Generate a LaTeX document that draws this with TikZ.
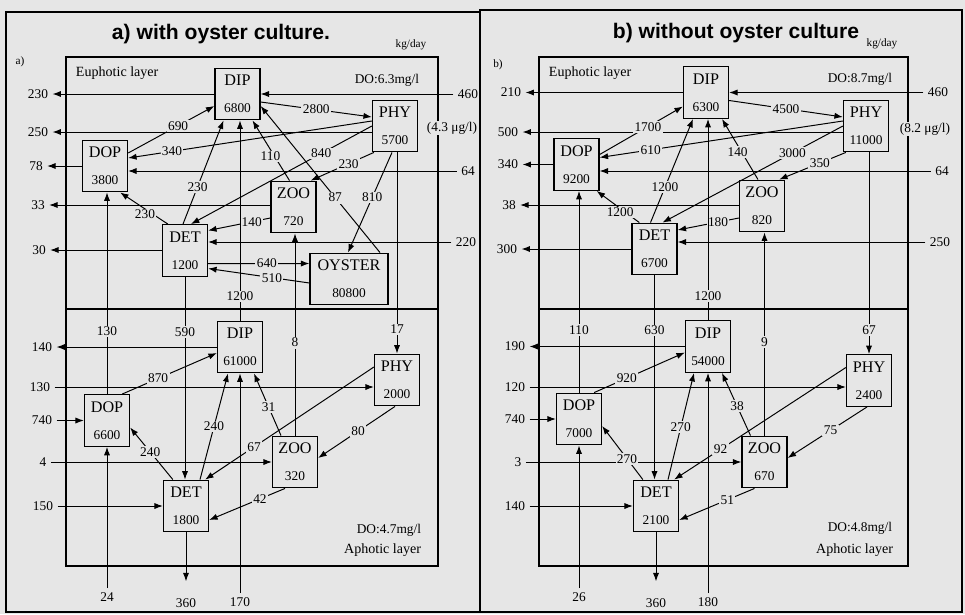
\documentclass[tikz,border=0pt]{standalone}
\usepackage{fontspec}
\setmainfont{Liberation Serif}
\newfontfamily\titlefont{Liberation Sans}
\usetikzlibrary{arrows.meta,calc}
\definecolor{paper}{RGB}{230,230,230}
\newcommand{\poolval}{\fontsize{9.5}{19}\selectfont}
\tikzset{
  >={Latex[length=6pt,width=4.4pt]},
  pool/.style={draw, line width=0.9pt, fill=paper, minimum width=1.125cm, minimum height=1.29cm,
    inner sep=0pt, align=center, font=\fontsize{11.5}{19}\selectfont},
  flux/.style={->, line width=0.7pt},
  lab/.style={font=\fontsize{9.5}{11}\selectfont, inner sep=1pt, fill=paper},
  bound/.style={font=\fontsize{9.5}{11}\selectfont, inner sep=3pt},
  small/.style={font=\fontsize{9.5}{11}\selectfont},
}

\begin{document}
\begin{tikzpicture}[x=0.025cm, y=-0.025cm]
  \fill[paper] (0,0) rectangle (965,614);
  \useasboundingbox (0,0) rectangle (965,614);
  % frames
  \draw[line width=1.2pt] (6,12) rectangle (480,612);
  \draw[line width=1.2pt] (480,10) rectangle (962,612);
  \draw[line width=1pt] (66,57) rectangle (438,566);
  \draw[line width=1pt] (66,309) -- (438,309);
  \draw[line width=1pt] (539,57) rectangle (908,566);
  \draw[line width=1pt] (539,309) -- (908,309);

  % ---------------- a) with oyster culture ----------------
  \node[font=\titlefont\bfseries\fontsize{15}{18}\selectfont] (titleA) at (221,34) {a) with oyster culture.};
  \node[font=\fontsize{8}{9}\selectfont] (unitA) at (411,45) {kg/day};
  \node[font=\fontsize{8}{9}\selectfont] (tagA) at (20,62) {a)};
  \node[font=\fontsize{10}{12}\selectfont, anchor=west] (euA) at (71,73) {Euphotic layer};
  \node[small, anchor=east] (doUa) at (424,80) {DO:6.3mg/l};
  \node[small, fill=paper, inner sep=1pt] (chlA) at (452,128) {(4.3 μg/l)};
  \node[small, anchor=east] (doLa) at (426,530) {DO:4.7mg/l};
  \node[font=\fontsize{10}{12}\selectfont, anchor=east] (apA) at (426,550) {Aphotic layer};

  % pools
  \node[pool] (dipUa) at (237.5,94) {DIP\\\poolval 6800};
  \node[pool] (phyUa) at (395,126) {PHY\\\poolval 5700};
  \node[pool] (dopUa) at (105,166) {DOP\\\poolval 3800};
  \node[pool] (zooUa) at (293.5,207) {ZOO\\\poolval 720};
  \node[pool] (detUa) at (185,250.5) {DET\\\poolval 1200};
  \node[pool, minimum width=1.95cm] (oysUa) at (349,279) {OYSTER\\\poolval 80800};
  \node[pool] (dipLa) at (240,347) {DIP\\\poolval 61000};
  \node[pool] (phyLa) at (397,380) {PHY\\\poolval 2000};
  \node[pool] (dopLa) at (107,420.5) {DOP\\\poolval 6600};
  \node[pool] (zooLa) at (295,462) {ZOO\\\poolval 320};
  \node[pool] (detLa) at (186,506) {DET\\\poolval 1800};

  % boundary values
  \node[bound] (xDipUa) at (38,94) {230};
  \node[bound] (xPhyUa) at (38,132) {250};
  \node[bound] (xDopUa) at (36,166) {78};
  \node[bound] (xZooUa) at (38,205) {33};
  \node[bound] (xDetUa) at (39,250) {30};
  \node[bound] (iDipUa) at (468,94) {460};
  \node[bound] (iDopUa) at (468,171) {64};
  \node[bound] (iDetUa) at (466,242) {220};
  \node[bound] (xDipLa) at (42,347) {140};
  \node[bound] (iPhyLa) at (40,387) {130};
  \node[bound] (iDopLa) at (42,420.5) {740};
  \node[bound] (iZooLa) at (43,462) {4};
  \node[bound] (iDetLa) at (43,506) {150};
  \node[bound] (bDopLa) at (107,597) {24};
  \node[bound] (xDetLa) at (186,603) {360};
  \node[bound] (bDipLa) at (240,602) {170};

  % exchange with the boundaries
  \draw[flux] (dipUa.west) -- (xDipUa);
  \draw[flux] (phyUa.west |- xPhyUa) -- (xPhyUa);
  \draw[flux] (dopUa.west) -- (xDopUa);
  \draw[flux] (zooUa.west |- xZooUa) -- (xZooUa);
  \draw[flux] (detUa.west |- xDetUa) -- (xDetUa);
  \draw[flux] (iDipUa) -- (dipUa.east);
  \draw[flux] (iDopUa) -- (dopUa.east |- iDopUa);
  \draw[flux] (iDetUa) -- (detUa.east |- iDetUa);
  \draw[flux] (dipLa.west) -- (xDipLa);
  \draw[flux] (iPhyLa) -- (phyLa.west |- iPhyLa);
  \draw[flux] (iDopLa) -- (dopLa.west);
  \draw[flux] (iZooLa) -- (zooLa.west);
  \draw[flux] (iDetLa) -- (detLa.west);
  \draw[flux] (bDopLa) -- (dopLa.south);
  \draw[flux, shorten >=9pt] (detLa.south) -- (xDetLa);
  \draw[flux] (bDipLa) -- (dipLa.south);

  % euphotic fluxes
  \draw[flux] ($(dipUa.east)+(0,8)$) -- node[lab] (upA) {2800} ($(phyUa.west)+(0,-9)$);
  \draw[flux] ($(dopUa.east)+(0,-13)$) -- node[lab, pos=.58] (minUa) {690} ($(dipUa.west)+(0,12)$);
  \draw[flux] ($(phyUa.west)+(0,-5)$) -- node[lab, pos=.82] (exuUa) {340} ($(dopUa.east)+(0,-8)$);
  \draw[flux] (phyUa.west) -- node[lab, pos=.28] (mortUa) {840} ($(detUa.north)+(6,0)$);
  \draw[flux] ($(phyUa.south west)+(2,0)$) -- node[lab, pos=.4] (grzUa) {230} ($(zooUa.north east)+(-6,0)$);
  \draw[flux] ($(zooUa.north)+(-4,0)$) -- node[lab, pos=.4, xshift=-3pt] (zexUa) {110} ($(dipUa.south)+(15,0)$);
  \draw[flux] ($(detUa.north)+(-2,0)$) -- node[lab, pos=.36] (detminUa) {230} ($(dipUa.south)+(-14,0)$);
  \draw[flux] ($(detUa.north west)+(6,0)$) -- node[lab, pos=.48, yshift=-4pt] (detdopUa) {230} ($(dopUa.south east)+(-8,0)$);
  \draw[flux] ($(oysUa.north)+(31,0)$) -- node[lab, pos=.375] (oysexA) {87} ($(dipUa.east)+(0,12)$);
  \draw[flux] ($(phyUa.south)+(-3,0)$) -- node[lab, pos=.45] (filtA) {810} ($(oysUa.north)+(-1,0)$);
  \draw[flux] ($(zooUa.west)+(0,11)$) -- node[lab, pos=.3] (zdetUa) {140} ($(detUa.east)+(0,-20)$);
  \draw[flux] ($(detUa.east)+(0,13)$) -- node[lab, pos=.58] (detoysA) {640} ($(oysUa.west)+(0,-15.5)$);
  \draw[flux] ($(oysUa.west)+(0,4)$) -- node[lab, pos=.37] (feceA) {510} ($(detUa.east)+(0,18)$);

  % between the layers
  \draw[flux] (dopLa.north) -- node[lab, pos=.31] (upDopA) {130} (dopLa.north |- dopUa.south);
  \draw[flux] (detUa.south) -- node[lab, pos=.27] (sinkDetA) {590} (detUa.south |- detLa.north);
  \draw[flux] (dipLa.north) -- node[lab, pos=.12] (upDipA) {1200} (dipLa.north |- dipUa.south);
  \draw[flux] (zooLa.north) -- node[lab, pos=.46] (upZooA) {8} (zooLa.north |- zooUa.south);
  \draw[flux] (phyLa.north |- phyUa.south) -- node[lab, pos=.88] (sinkPhyA) {17} (phyLa.north);

  % aphotic fluxes
  \draw[flux] ($(dopLa.north east)+(-8,0)$) -- node[lab, pos=.38] (minLa) {870} ($(dipLa.west)+(0,6)$);
  \draw[flux] ($(detLa.north)+(14,0)$) -- node[lab, pos=.5] (detminLa) {240} ($(dipLa.south)+(-12,0)$);
  \draw[flux] ($(detLa.north west)+(10,0)$) -- node[lab, pos=.53] (detdopLa) {240} ($(dopLa.east)+(0,7)$);
  \draw[flux] ($(zooLa.north)+(-14,0)$) -- node[lab, pos=.46] (zexLa) {31} ($(dipLa.south)+(14,0)$);
  \draw[flux] ($(phyLa.west)+(0,-13)$) -- node[lab, pos=.71] (mortLa) {67} ($(detLa.north east)+(-4,0)$);
  \draw[flux] ($(phyLa.south)+(-2,0)$) -- node[lab, pos=.48] (grzLa) {80} ($(zooLa.east)+(0,-4)$);
  \draw[flux] ($(zooLa.south)+(-10,0)$) -- node[lab, pos=.33] (zdetLa) {42} ($(detLa.east)+(0,14)$);

  % ---------------- b) without oyster culture ----------------
  \node[font=\titlefont\bfseries\fontsize{15}{18}\selectfont] (titleB) at (736,33) {b) without oyster culture};
  \node[font=\fontsize{8}{9}\selectfont] (unitB) at (882,44) {kg/day};
  \node[font=\fontsize{8}{9}\selectfont] (tagB) at (498,65) {b)};
  \node[font=\fontsize{10}{12}\selectfont, anchor=west] (euB) at (544,73) {Euphotic layer};
  \node[small, anchor=east] (doUb) at (897,79) {DO:8.7mg/l};
  \node[small, fill=paper, inner sep=1pt] (chlB) at (925,129) {(8.2 μg/l)};
  \node[small, anchor=east] (doLb) at (897,528) {DO:4.8mg/l};
  \node[font=\fontsize{10}{12}\selectfont, anchor=east] (apB) at (898,550) {Aphotic layer};

  % pools
  \node[pool] (dipUb) at (706,92.5) {DIP\\\poolval 6300};
  \node[pool] (phyUb) at (866,126) {PHY\\\poolval 11000};
  \node[pool] (dopUb) at (576.5,164.5) {DOP\\\poolval 9200};
  \node[pool] (zooUb) at (762,206) {ZOO\\\poolval 820};
  \node[pool] (detUb) at (654.5,249) {DET\\\poolval 6700};
  \node[pool] (dipLb) at (708,346.5) {DIP\\\poolval 54000};
  \node[pool] (phyLb) at (869,380.5) {PHY\\\poolval 2400};
  \node[pool] (dopLb) at (579,419) {DOP\\\poolval 7000};
  \node[pool] (zooLb) at (764.5,462) {ZOO\\\poolval 670};
  \node[pool] (detLb) at (656,506) {DET\\\poolval 2100};

  % boundary values
  \node[bound] (xDipUb) at (511,92.5) {210};
  \node[bound] (xPhyUb) at (508,132) {500};
  \node[bound] (xDopUb) at (508,164.5) {340};
  \node[bound] (xZooUb) at (509,205) {38};
  \node[bound] (xDetUb) at (507,249) {300};
  \node[bound] (iDipUb) at (938,92.5) {460};
  \node[bound] (iDopUb) at (942,171) {64};
  \node[bound] (iDetUb) at (940,242) {250};
  \node[bound] (xDipLb) at (515,346.5) {190};
  \node[bound] (iPhyLb) at (515,387) {120};
  \node[bound] (iDopLb) at (515,419) {740};
  \node[bound] (iZooLb) at (518,462) {3};
  \node[bound] (iDetLb) at (515,506) {140};
  \node[bound] (bDopLb) at (579,597) {26};
  \node[bound] (xDetLb) at (656,603) {360};
  \node[bound] (bDipLb) at (708,602) {180};

  % exchange with the boundaries
  \draw[flux] (dipUb.west) -- (xDipUb);
  \draw[flux] (phyUb.west |- xPhyUb) -- (xPhyUb);
  \draw[flux] (dopUb.west) -- (xDopUb);
  \draw[flux] (zooUb.west |- xZooUb) -- (xZooUb);
  \draw[flux] (detUb.west) -- (xDetUb);
  \draw[flux] (iDipUb) -- (dipUb.east);
  \draw[flux] (iDopUb) -- (dopUb.east |- iDopUb);
  \draw[flux] (iDetUb) -- (detUb.east |- iDetUb);
  \draw[flux] (dipLb.west) -- (xDipLb);
  \draw[flux] (iPhyLb) -- (phyLb.west |- iPhyLb);
  \draw[flux] (iDopLb) -- (dopLb.west);
  \draw[flux] (iZooLb) -- (zooLb.west);
  \draw[flux] (iDetLb) -- (detLb.west);
  \draw[flux] (bDopLb) -- (dopLb.south);
  \draw[flux, shorten >=9pt] (detLb.south) -- (xDetLb);
  \draw[flux] (bDipLb) -- (dipLb.south);

  % euphotic fluxes
  \draw[flux] ($(dipUb.east)+(0,8)$) -- node[lab] (upB) {4500} ($(phyUb.west)+(0,-9)$);
  \draw[flux] ($(dopUb.east)+(0,-10)$) -- node[lab, pos=.58] (minUb) {1700} ($(dipUb.west)+(0,14)$);
  \draw[flux] ($(phyUb.west)+(0,-5)$) -- node[lab, pos=.79] (exuUb) {610} ($(dopUb.east)+(0,-7)$);
  \draw[flux] (phyUb.west) -- node[lab, pos=.28] (mortUb) {3000} ($(detUb.north)+(8,0)$);
  \draw[flux] ($(phyUb.south west)+(3,0)$) -- node[lab, pos=.39] (grzUb) {350} ($(zooUb.north east)+(-6,0)$);
  \draw[flux] ($(zooUb.north)+(-4,0)$) -- node[lab, pos=.45, xshift=-3pt] (zexUb) {140} ($(dipUb.south)+(16,0)$);
  \draw[flux] ($(detUb.north)+(-4,0)$) -- node[lab, pos=.34] (detminUb) {1200} ($(dipUb.south)+(-13,0)$);
  \draw[flux] ($(detUb.north west)+(8,0)$) -- node[lab, pos=.45, yshift=-3pt] (detdopUb) {1200} ($(dopUb.south east)+(-3,0)$);
  \draw[flux] ($(zooUb.west)+(0,12)$) -- node[lab, pos=.34] (zdetUb) {180} ($(detUb.east)+(0,-19)$);

  % between the layers
  \draw[flux] (dopLb.north) -- node[lab, pos=.31] (upDopB) {110} (dopLb.north |- dopUb.south);
  \draw[flux] (detUb.south) -- node[lab, pos=.27] (sinkDetB) {630} (detUb.south |- detLb.north);
  \draw[flux] (dipLb.north) -- node[lab, pos=.12] (upDipB) {1200} (dipLb.north |- dipUb.south);
  \draw[flux] (zooLb.north) -- node[lab, pos=.46] (upZooB) {9} (zooLb.north |- zooUb.south);
  \draw[flux] (phyLb.north |- phyUb.south) -- node[lab, pos=.88] (sinkPhyB) {67} (phyLb.north);

  % aphotic fluxes
  \draw[flux] ($(dopLb.north east)+(-8,0)$) -- node[lab, pos=.36] (minLb) {920} ($(dipLb.west)+(0,6)$);
  \draw[flux] ($(detLb.north)+(12,0)$) -- node[lab, pos=.49] (detminLb) {270} ($(dipLb.south)+(-14,0)$);
  \draw[flux] ($(detLb.north west)+(10,0)$) -- node[lab, pos=.39] (detdopLb) {270} ($(dopLb.east)+(0,7)$);
  \draw[flux] ($(zooLb.north)+(-14,0)$) -- node[lab, pos=.47] (zexLb) {38} ($(dipLb.south)+(14,0)$);
  \draw[flux] ($(phyLb.west)+(0,-13)$) -- node[lab, pos=.73] (mortLb) {92} ($(detLb.north east)+(-5,0)$);
  \draw[flux] ($(phyLb.south)+(-2,0)$) -- node[lab, pos=.46] (grzLb) {75} ($(zooLb.east)+(0,-4)$);
  \draw[flux] ($(zooLb.south)+(-10,0)$) -- node[lab, pos=.36] (zdetLb) {51} ($(detLb.east)+(0,14)$);
\end{tikzpicture}
\end{document}
